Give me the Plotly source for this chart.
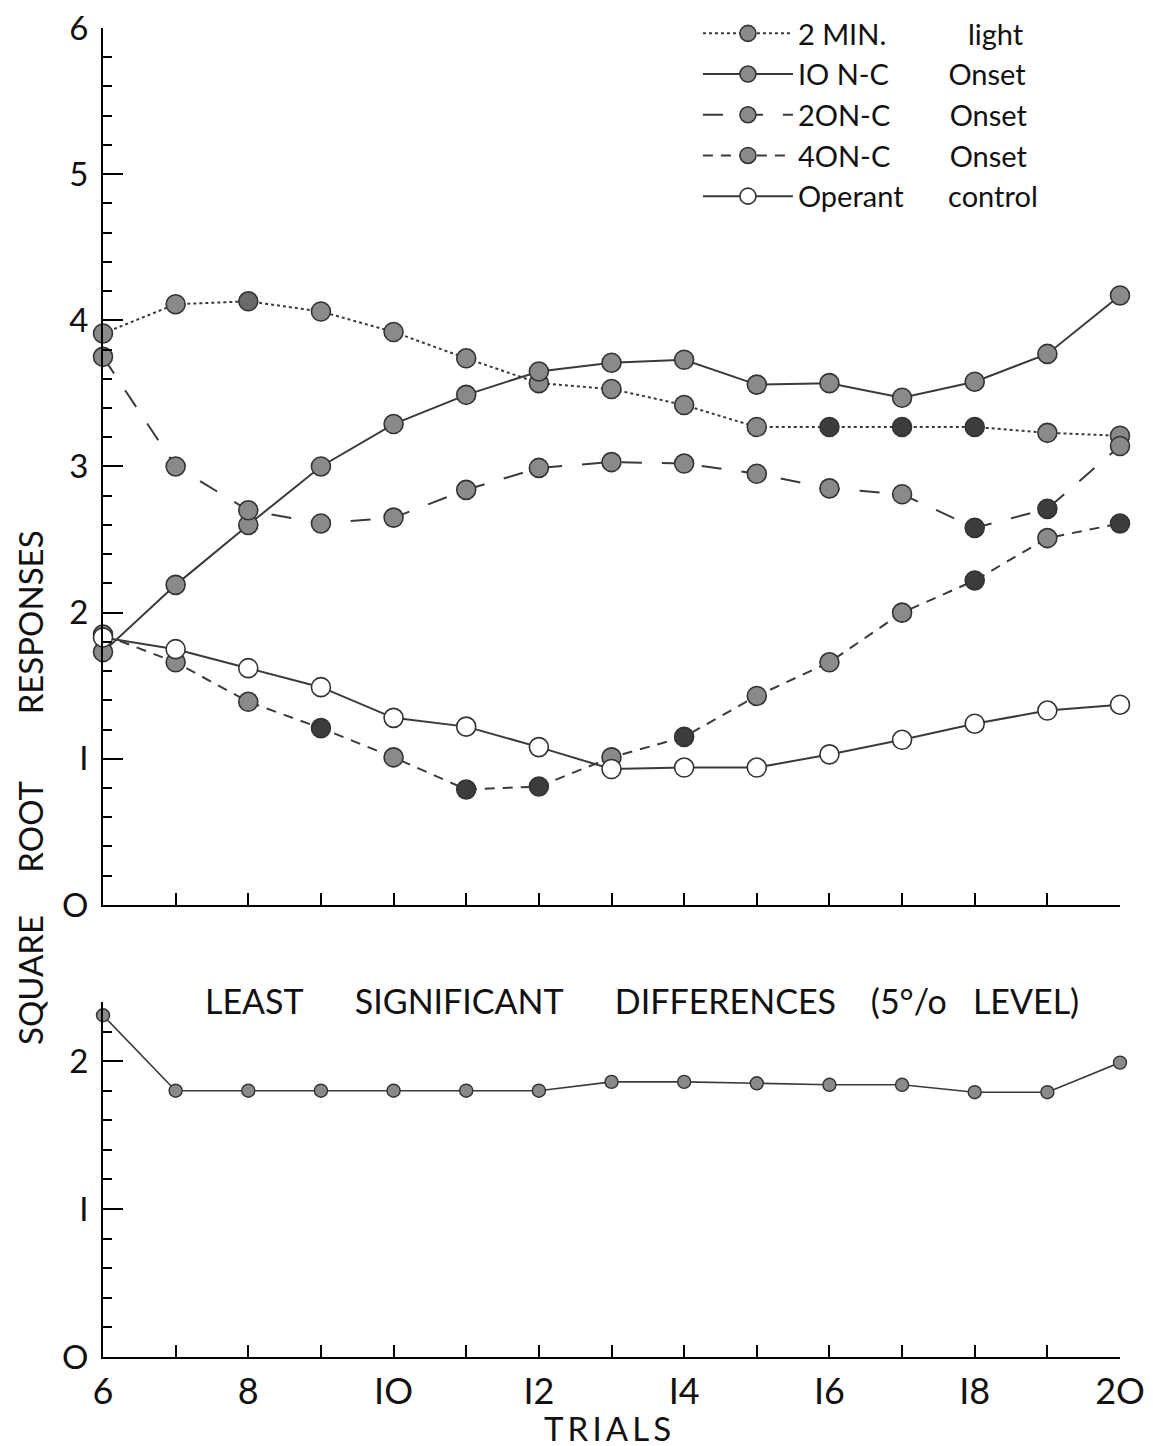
import plotly.graph_objects as go

trials = list(range(6, 21))

min2_light = [3.91, 4.11, 4.13, 4.06, 3.92, 3.74, 3.57, 3.53, 3.42, 3.27, 3.27, 3.27, 3.27, 3.23, 3.21]
nc10_onset = [1.73, 2.19, 2.60, 3.00, 3.29, 3.49, 3.65, 3.71, 3.73, 3.56, 3.57, 3.47, 3.58, 3.77, 4.17]
nc20_onset = [3.75, 3.00, 2.70, 2.61, 2.65, 2.84, 2.99, 3.03, 3.02, 2.95, 2.85, 2.81, 2.58, 2.71, 3.14]
nc40_onset = [1.85, 1.66, 1.39, 1.21, 1.01, 0.79, 0.81, 1.01, 1.15, 1.43, 1.66, 2.00, 2.22, 2.51, 2.61]
operant_ctrl = [1.83, 1.75, 1.62, 1.49, 1.28, 1.22, 1.08, 0.93, 0.94, 0.94, 1.03, 1.13, 1.24, 1.33, 1.37]
lsd_5pct = [2.31, 1.80, 1.80, 1.80, 1.80, 1.80, 1.80, 1.86, 1.86, 1.85, 1.84, 1.84, 1.79, 1.79, 1.99]

NB = "\u00a0"
series_names = ["2 MIN." + NB * 11 + "light", "IO N-C" + NB * 8 + "Onset", "2ON-C" + NB * 8 + "Onset",
                "4ON-C" + NB * 8 + "Onset", "Operant" + NB * 6 + "control"]

# styles (kept separate from data)
LINE = "#3a3a3a"
G = "#8a8a8a"
M = "#6a6a6a"
D = "#3c3c3c"
dash_styles = ["dot", "solid", "20px,20px", "10px,8px", "solid"]
fills = [
    [G, G, M, G, G, G, G, G, G, G, D, D, D, G, G],
    [G] * 15,
    [G, G, G, G, G, G, G, G, G, G, G, G, D, D, G],
    [G, G, G, D, G, D, D, G, D, G, G, G, D, G, D],
    ["white"] * 15,
]

FONT = "Lato"
fig = go.Figure()

all_series = [min2_light, nc10_onset, nc20_onset, nc40_onset, operant_ctrl]
for name, vals, dsh, fc in zip(series_names, all_series, dash_styles, fills):
    fig.add_trace(go.Scatter(
        x=trials, y=vals, name=name, mode="lines+markers",
        line=dict(color=LINE, width=2.0, dash=dsh),
        marker=dict(size=19, color=fc, line=dict(color="#333333", width=1.6)),
        cliponaxis=False, xaxis="x", yaxis="y"))

fig.add_trace(go.Scatter(
    x=trials, y=lsd_5pct, mode="lines+markers", showlegend=False,
    line=dict(color=LINE, width=1.6),
    marker=dict(size=13, color=G, line=dict(color="#333333", width=1.4)),
    cliponaxis=False, xaxis="x2", yaxis="y2"))

axis_common = dict(showline=True, linecolor="black", linewidth=2, showgrid=False, zeroline=False,
                   automargin=False,
                   ticks="inside", tickcolor="black", tickwidth=2, ticklabeloverflow="allow",
                   tickfont=dict(family=FONT, size=36, color="#111"))
minor_y = dict(dtick=0.2, ticks="inside", ticklen=9, tickcolor="black", tickwidth=2)

fig.update_layout(
    width=1153, height=1446,
    paper_bgcolor="white", plot_bgcolor="white",
    margin=dict(l=95, r=41, t=0, b=97, autoexpand=False),
    font=dict(family=FONT, color="#111"),
    xaxis=dict(axis_common, domain=[0, 1], range=[6, 20], tickvals=trials, showticklabels=False,
               ticklen=12, anchor="y"),
    yaxis=dict(axis_common, domain=[0.3351, 0.9852], range=[0, 6], tickvals=[0, 1, 2, 3, 4, 5, 6],
               ticktext=["O", "I", "2", "3", "4", "5", "6"], ticklen=20, ticklabelstandoff=6,
               tickfont=dict(family=FONT, size=33, color="#111"),
               minor=minor_y, anchor="x"),
    xaxis2=dict(axis_common, domain=[0, 1], range=[6, 20], tickvals=list(range(6, 21, 2)),
                ticktext=["6", "8", "IO", "I2", "I4", "I6", "I8", "2O"], ticklen=12,
                ticklabelstandoff=2,
                minor=dict(tickvals=list(range(7, 20, 2)), ticks="inside", ticklen=12,
                           tickcolor="black", tickwidth=2),
                anchor="y2"),
    yaxis2=dict(axis_common, domain=[0, 0.2632], range=[0, 2.4], tickvals=[0, 1, 2],
                ticktext=["O", "I", "2"], ticklen=20, ticklabelstandoff=6,
                tickfont=dict(family=FONT, size=33, color="#111"),
                minor=minor_y, anchor="x2"),
    legend=dict(x=0.585, y=1.0, xanchor="left", yanchor="top", bgcolor="rgba(0,0,0,0)",
                font=dict(family=FONT, size=29, color="#111"), itemwidth=90,
                tracegroupgap=0),
    annotations=[
        dict(text="SQUARE" + NB * 5 + "ROOT" + NB * 8 + "RESPONSES",
             xref="paper", yref="paper", x=-0.0718, y=0.4225, xanchor="center", yanchor="middle",
             textangle=-90, showarrow=False,
             font=dict(family=FONT, size=33, color="#111")),
        dict(text="LEAST" + NB * 6 + "SIGNIFICANT" + NB * 6 + "DIFFERENCES" + NB * 4 + "(5°/o" + NB * 3 + "LEVEL)",
             xref="paper", yref="paper", x=0.53, y=0.2646, xanchor="center", yanchor="middle",
             showarrow=False,
             font=dict(family=FONT, size=34, color="#111")),
        dict(text="T R I A L S".replace(" ", "\u2009"), xref="paper", yref="paper", x=0.4956, y=-0.0526,
             xanchor="center", yanchor="middle", showarrow=False,
             font=dict(family=FONT, size=33, color="#111")),
    ],
)

fig.write_html("out.html")
